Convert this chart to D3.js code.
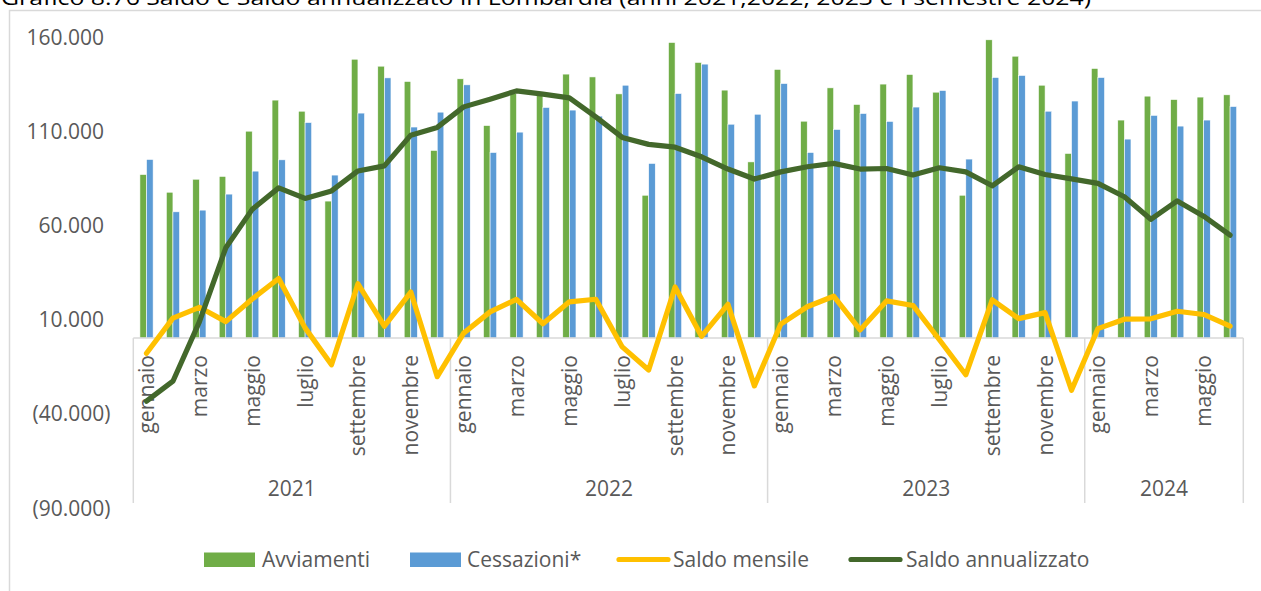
<!DOCTYPE html>
<html>
<head>
<meta charset="utf-8">
<script src="https://cdn.jsdelivr.net/npm/d3@7"></script>
<style>
  html, body { margin: 0; padding: 0; background: #fff; }
  svg { display: block; }
  text { font-family: "Open Sans", sans-serif; }
</style>
</head>
<body>
<svg id="chart" width="1261" height="591"></svg>
<script>
// ---------- DATA ----------
const title = "Grafico 8.76 Saldo e Saldo annualizzato in Lombardia (anni 2021,2022, 2023 e I semestre 2024)";
const years = ["2021", "2022", "2023", "2024"];
const monthsPerYear = [12, 12, 12, 6];
const monthNames = ["gennaio", "febbraio", "marzo", "aprile", "maggio", "giugno",
                    "luglio", "agosto", "settembre", "ottobre", "novembre", "dicembre"];
const seriesNames = ["Avviamenti", "Cessazioni*", "Saldo mensile", "Saldo annualizzato"];
const yTicks = [-90000, -40000, 10000, 60000, 110000, 160000];

const avviamenti = [
  86800, 77400, 84300, 85800, 109800, 126300, 120400, 72700, 148000, 144300, 136200, 99600,
  137600, 112800, 129800, 130100, 140100, 138600, 129600, 75800, 156900, 146300, 131600, 93500,
  142600, 115100, 132800, 124000, 134800, 139900, 130500, 75800, 158300, 149600, 134200, 98000,
  143100, 115700, 128400, 126600, 127900, 129100
];
const cessazioni = [
  94800, 67000, 67900, 76400, 88600, 94600, 114400, 86500, 119400, 138100, 112000, 119900,
  134400, 98500, 109300, 122400, 121000, 117800, 134200, 92700, 129800, 145400, 113500, 118800,
  135100, 98500, 110700, 119200, 115000, 122600, 131400, 95000, 138300, 139400, 120400, 125800,
  138300, 105600, 118200, 112500, 115700, 122900
];
const saldoMensile = [
  -8100, 10600, 16300, 8700, 20700, 31600, 5400, -14200, 28800, 6300, 24400, -20500,
  2600, 13900, 20500, 7600, 19200, 20600, -4700, -17000, 27100, 900, 17900, -25400,
  7400, 16600, 22200, 4300, 19700, 17300, -900, -19500, 20300, 10300, 13500, -27700,
  5000, 10000, 10200, 14200, 12500, 6300
];
const saldoAnnualizzato = [
  -33500, -22900, 8600, 47900, 68300, 79700, 74100, 78100, 88700, 91400, 107700, 111800,
  122700, 126800, 131200, 129500, 127500, 117400, 106500, 102800, 101300, 96200, 89700, 84400,
  88200, 90900, 92700, 89700, 90000, 86500, 90400, 88200, 80800, 90900, 86800, 84500,
  82100, 75000, 63000, 72800, 64700, 54600
];

// categories built from years / month names
const categories = [];
years.forEach((yr, i) => {
  for (let m = 0; m < monthsPerYear[i]; m++) categories.push({ year: yr, month: monthNames[m], m: m });
});

// ---------- STYLE ----------
const colGreen = "#70AD47", colBlue = "#5B9BD5", colYellow = "#FFC000", colDark = "#43682B";
const txt = "#595959", axisCol = "#D9D9D9";

const svg = d3.select("#chart");

// outer chart border (partially visible)
svg.append("path").attr("d", "M9.5,591 V10.5 H1261").attr("fill", "none").attr("stroke", axisCol).attr("stroke-width", 1.5);

// title (cut off at top as in reference)
svg.append("text").attr("x", 1).attr("y", 5).attr("font-size", 20).attr("fill", "#000")
  .attr("textLength", 1090).attr("lengthAdjust", "spacingAndGlyphs").text(title);

// ---------- SCALES ----------
const x = d3.scaleBand().domain(d3.range(categories.length)).range([133.3, 1243.3]).paddingInner(0).paddingOuter(0);
const xs = d3.scaleBand().domain([0, 1]).range([0, x.bandwidth()]).paddingInner(0).paddingOuter(1);
const y = d3.scaleLinear().domain([-90000, 160000]).range([507.6, 36.6]);

// ---------- Y AXIS LABELS ----------
const loc = d3.formatLocale({ decimal: ",", thousands: ".", grouping: [3], currency: ["", ""] });
const f = loc.format(",.0f");
const fmt = v => v < 0 ? "(" + f(-v) + ")" : f(v);
const yAxis = d3.axisLeft(y).tickValues(yTicks).tickFormat(fmt).tickSize(0).tickPadding(0);
const gy = svg.append("g").attr("transform", "translate(104,0)").call(yAxis);
gy.select(".domain").remove();
gy.selectAll("text").attr("font-size", 21).attr("fill", txt).attr("font-family", "Open Sans")
  .attr("dy", null).attr("y", 7.5)
  .attr("x", d => d < 0 ? 6.5 : 0);

// ---------- BARS ----------
const barG = svg.append("g");
[[avviamenti, colGreen, 0], [cessazioni, colBlue, 1]].forEach(([vals, col, k]) => {
  barG.selectAll(null).data(vals).join("rect")
    .attr("x", (d, i) => x(i) + xs(k))
    .attr("width", xs.bandwidth())
    .attr("y", d => y(Math.max(0, d)))
    .attr("height", d => Math.abs(y(d) - y(0)))
    .attr("fill", col)
    .attr("stroke", "#fff").attr("stroke-width", 0.6);
});

// ---------- CATEGORY AXIS ----------
const axG = svg.append("g");
const y0 = y(0);
axG.append("line").attr("x1", x.range()[0]).attr("x2", x.range()[1]).attr("y1", y0).attr("y2", y0)
  .attr("stroke", axisCol).attr("stroke-width", 1.5);
// year separators
let cum = 0;
const seps = [0];
monthsPerYear.forEach(n => { cum += n; seps.push(cum); });
seps.forEach(idx => {
  const xx = idx < categories.length ? x(idx) : x.range()[1];
  axG.append("line").attr("x1", xx).attr("x2", xx).attr("y1", y0).attr("y2", 503)
    .attr("stroke", axisCol).attr("stroke-width", 1.5);
});
// month labels (every other month)
axG.selectAll(null).data(categories.map((c, i) => ({ c, i })).filter(d => d.c.m % 2 === 0))
  .join("text")
  .attr("transform", d => `translate(${x(d.i) + x.bandwidth() / 2 + 7.5},355) rotate(-90)`)
  .attr("text-anchor", "end").attr("font-size", 21).attr("fill", txt)
  .text(d => d.c.month);
// year labels
axG.selectAll(null).data(years).join("text")
  .attr("x", (d, i) => {
    const a = x(seps[i]);
    const b = seps[i + 1] < categories.length ? x(seps[i + 1]) : x.range()[1];
    return (a + b) / 2;
  })
  .attr("y", 495.5).attr("text-anchor", "middle").attr("font-size", 21).attr("fill", txt)
  .text(d => d);

// ---------- LINES ----------
const line = d3.line().x((d, i) => x(i) + x.bandwidth() / 2).y(d => y(d));
svg.append("path").attr("d", line(saldoMensile)).attr("fill", "none").attr("stroke", colYellow)
  .attr("stroke-width", 5.2).attr("stroke-linejoin", "round").attr("stroke-linecap", "round");
svg.append("path").attr("d", line(saldoAnnualizzato)).attr("fill", "none").attr("stroke", colDark)
  .attr("stroke-width", 5.2).attr("stroke-linejoin", "round").attr("stroke-linecap", "round");

// ---------- LEGEND ----------
const lg = svg.append("g");
const legendItems = [
  { name: seriesNames[0], type: "rect", col: colGreen, x0: 204, tx: 262 },
  { name: seriesNames[1], type: "rect", col: colBlue, x0: 410, tx: 467 },
  { name: seriesNames[2], type: "line", col: colYellow, x0: 617, tx: 673 },
  { name: seriesNames[3], type: "line", col: colDark, x0: 849, tx: 906 }
];
legendItems.forEach(it => {
  if (it.type === "rect") {
    lg.append("rect").attr("x", it.x0).attr("y", 552.5).attr("width", 51).attr("height", 14.5).attr("fill", it.col);
  } else {
    lg.append("line").attr("x1", it.x0 + 2).attr("x2", it.x0 + 51).attr("y1", 559.5).attr("y2", 559.5)
      .attr("stroke", it.col).attr("stroke-width", 5.2).attr("stroke-linecap", "round");
  }
  lg.append("text").attr("x", it.tx).attr("y", 567).attr("font-size", 21).attr("fill", txt).text(it.name);
});
</script>
</body>
</html>
